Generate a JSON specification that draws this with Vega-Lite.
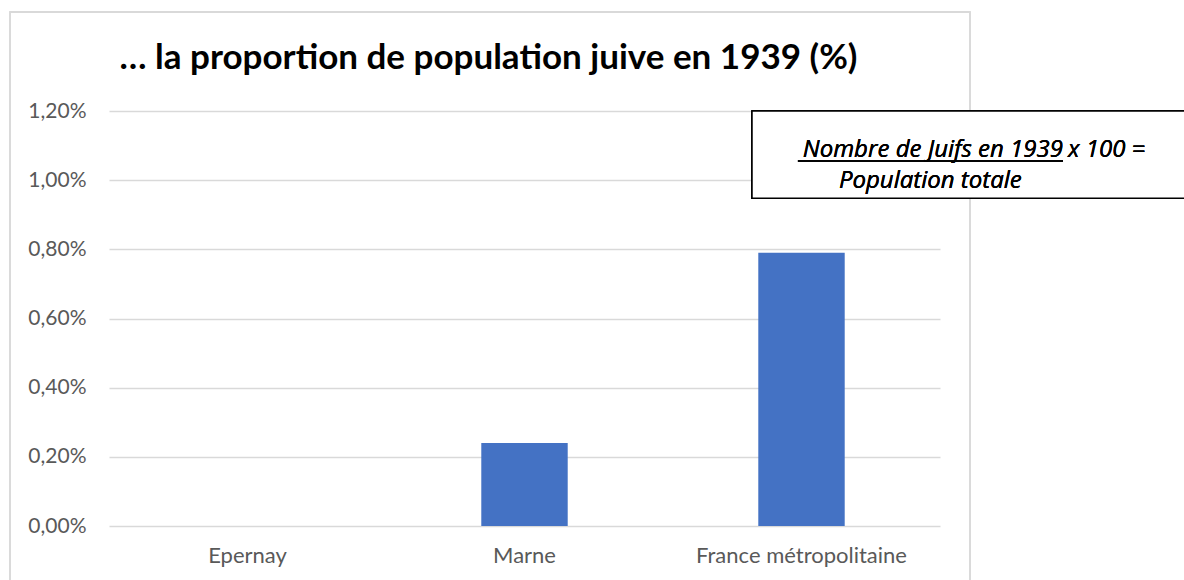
{
  "$schema": "https://vega.github.io/schema/vega-lite/v6.json",
  "width": 831,
  "height": 415,
  "autosize": {"type": "none"},
  "padding": {"left": 109, "top": 111, "right": 244, "bottom": 54},
  "background": "#ffffff",
  "title": {
    "text": "… la proportion de population juive en 1939 (%)",
    "font": "Lato",
    "fontWeight": "bold",
    "fontSize": 35,
    "color": "#000000",
    "anchor": "middle",
    "frame": "group",
    "baseline": "alphabetic",
    "dx": -36,
    "dy": 93,
    "offset": 0
  },
  "config": {
    "view": {"stroke": null},
    "font": "Lato"
  },
  "data": {
    "values": [
      {"lieu": "Epernay", "proportion": 0.0},
      {"lieu": "Marne", "proportion": 0.0024},
      {"lieu": "France métropolitaine", "proportion": 0.0079}
    ]
  },
  "resolve": {"scale": {"x": "independent"}},
  "layer": [
    {
      "mark": {"type": "rect", "fill": null, "stroke": "#d9d9d9", "strokeWidth": 1.3, "clip": false},
      "encoding": {
        "x": {"datum": -0.3574, "type": "quantitative", "scale": {"domain": [0, 3], "nice": false, "zero": false}, "axis": null},
        "x2": {"datum": 3.1083},
        "y": {"datum": 0.014863, "type": "quantitative", "scale": {"domain": [0, 0.012], "nice": false, "zero": false}},
        "y2": {"datum": -0.0025}
      }
    },
    {
      "mark": {"type": "bar", "color": "#4472C4"},
      "encoding": {
        "x": {
          "field": "lieu",
          "type": "nominal",
          "sort": null,
          "scale": {"paddingInner": 0.688, "paddingOuter": 0.344},
          "axis": {
            "title": null,
            "labelAngle": 0,
            "domain": false,
            "ticks": false,
            "grid": false,
            "labelPadding": 19,
            "labelFontSize": 22,
            "labelLimit": 400,
            "labelColor": "#595959",
            "labelFont": "Lato"
          }
        },
        "y": {
          "field": "proportion",
          "type": "quantitative",
          "scale": {"domain": [0, 0.012], "nice": false, "zero": false},
          "axis": {
            "title": null,
            "values": [0, 0.002, 0.004, 0.006, 0.008, 0.01, 0.012],
            "labelExpr": "replace(format(datum.value, '.2%'), '.', ',')",
            "domain": false,
            "ticks": false,
            "grid": true,
            "gridColor": "#d9d9d9",
            "gridWidth": 1.3,
            "labelPadding": 23,
            "labelFontSize": 21,
            "labelColor": "#595959",
            "labelFont": "Lato"
          }
        }
      }
    },
    {
      "mark": {"type": "rect", "fill": "#ffffff", "stroke": "#000000", "strokeWidth": 1.5, "clip": false},
      "encoding": {
        "x": {"datum": 2.3213, "type": "quantitative", "scale": {"domain": [0, 3], "nice": false, "zero": false}, "axis": null},
        "x2": {"datum": 4.0},
        "y": {"datum": 0.012, "type": "quantitative", "scale": {"domain": [0, 0.012], "nice": false, "zero": false}},
        "y2": {"datum": 0.00948}
      }
    },
    {
      "mark": {"type": "text", "text": "Nombre de Juifs en 1939", "align": "right", "baseline": "alphabetic", "font": "Open Sans", "fontStyle": "italic", "fontSize": 24, "color": "#000000", "clip": false},
      "encoding": {
        "x": {"datum": 3.444, "type": "quantitative", "scale": {"domain": [0, 3], "nice": false, "zero": false}, "axis": null},
        "y": {"datum": 0.01067, "type": "quantitative", "scale": {"domain": [0, 0.012], "nice": false, "zero": false}}
      }
    },
    {
      "mark": {"type": "text", "text": "x 100 =", "align": "left", "baseline": "alphabetic", "font": "Open Sans", "fontStyle": "italic", "fontSize": 24, "color": "#000000", "clip": false},
      "encoding": {
        "x": {"datum": 3.462, "type": "quantitative", "scale": {"domain": [0, 3], "nice": false, "zero": false}, "axis": null},
        "y": {"datum": 0.01067, "type": "quantitative", "scale": {"domain": [0, 0.012], "nice": false, "zero": false}}
      }
    },
    {
      "mark": {"type": "rule", "color": "#000000", "strokeWidth": 1.5, "clip": false},
      "encoding": {
        "x": {"datum": 2.487, "type": "quantitative", "scale": {"domain": [0, 3], "nice": false, "zero": false}, "axis": null},
        "x2": {"datum": 3.444},
        "y": {"datum": 0.010554, "type": "quantitative", "scale": {"domain": [0, 0.012], "nice": false, "zero": false}}
      }
    },
    {
      "mark": {"type": "text", "text": "Population totale", "align": "left", "baseline": "alphabetic", "font": "Open Sans", "fontStyle": "italic", "fontSize": 24, "color": "#000000", "clip": false},
      "encoding": {
        "x": {"datum": 2.635, "type": "quantitative", "scale": {"domain": [0, 3], "nice": false, "zero": false}, "axis": null},
        "y": {"datum": 0.009773, "type": "quantitative", "scale": {"domain": [0, 0.012], "nice": false, "zero": false}}
      }
    }
  ]
}
